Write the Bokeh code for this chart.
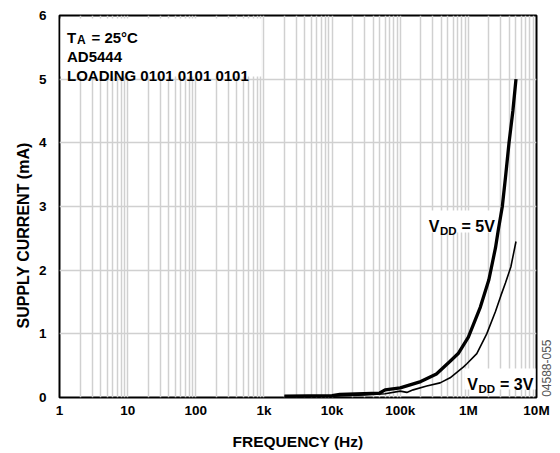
import math
from bokeh.plotting import figure
from bokeh.models import Range1d, FixedTicker, Label, BoxAnnotation, Title, LinearAxis
from bokeh.embed import file_html
from bokeh.resources import INLINE

# ---- data ----
freq_5v = [2e3, 1e4, 1.3e4, 5e4, 6e4, 1e5, 2e5, 3.4e5, 5.4e5, 7.1e5, 1e6, 1.5e6,
           2e6, 2.5e6, 2.75e6, 3.15e6, 3.5e6, 3.95e6, 4.5e6, 5e6]
current_5v = [0.02, 0.03, 0.05, 0.07, 0.12, 0.15, 0.25, 0.37, 0.57, 0.69, 0.95, 1.42,
              1.85, 2.35, 2.63, 3.0, 3.45, 4.0, 4.5, 5.0]
freq_3v = [2e3, 1e4, 3e4, 6e4, 1e5, 1.25e5, 1.55e5, 2.45e5, 3.85e5, 5.4e5, 8.5e5, 9.5e5,
           1.33e6, 1.86e6, 2.5e6, 3e6, 3.5e6, 4.2e6, 5e6]
current_3v = [0.02, 0.02, 0.04, 0.06, 0.10, 0.08, 0.12, 0.18, 0.23, 0.31, 0.48, 0.53,
              0.69, 1.0, 1.35, 1.6, 1.8, 2.05, 2.45]
x_ticks = [1, 10, 100, 1000, 10000, 100000, 1000000, 10000000]
x_tick_labels = ["1", "10", "100", "1k", "10k", "100k", "1M", "10M"]
y_ticks = [0, 1, 2, 3, 4, 5, 6]

FONT = "Liberation Sans"
GRID = "#d0d0d0"

FW, FH = 477, 382
BL, BT = 59, 15
p = figure(frame_width=FW, frame_height=FH, x_axis_type="log",
           x_range=Range1d(1, 1e7), y_range=Range1d(0, 6),
           output_backend="svg", toolbar_location=None,
           min_border_left=BL, min_border_right=22, min_border_top=BT,
           min_border_bottom=53)

# page-pixel helpers for annotation placement
X0 = BL
Y0 = BT + FH
DEC = FW / 7.0
UNIT = FH / 6.0
def sx(px):
    return 10 ** ((px - X0) / DEC)
def sy(py):
    return (Y0 - py) / UNIT

p.outline_line_color = "black"
p.outline_line_width = 2
p.background_fill_color = "white"
p.border_fill_color = "white"

minor = [m * 10 ** k for k in range(7) for m in range(2, 10)]
p.xaxis.ticker = FixedTicker(ticks=x_ticks, minor_ticks=minor)
p.xaxis.major_label_overrides = {t: l for t, l in zip(x_ticks, x_tick_labels)}
p.yaxis.ticker = FixedTicker(ticks=y_ticks)

def plain_axis(ax, size="13.5px", style="bold", color="black"):
    ax.axis_line_color = None
    ax.major_tick_line_color = None
    ax.minor_tick_line_color = None
    ax.major_tick_out = 0
    ax.major_tick_in = 0
    ax.minor_tick_out = 0
    ax.minor_tick_in = 0
    ax.major_label_text_font = FONT
    ax.major_label_text_font_style = style
    ax.major_label_text_font_size = size
    ax.major_label_text_color = color

plain_axis(p.xaxis[0])
plain_axis(p.yaxis[0])

p.xaxis.major_label_standoff = 5
p.yaxis.major_label_standoff = 13
p.xaxis.axis_label = "FREQUENCY (Hz)"
p.xaxis.axis_label_text_font = FONT
p.xaxis.axis_label_text_font_style = "bold"
p.xaxis.axis_label_text_font_size = "15.5px"
p.xaxis.axis_label_standoff = 12
p.xaxis.axis_label_text_color = "black"

# y axis title (placed low, as in the reference)
ytitle = Title(text="SUPPLY CURRENT (mA)", align="left", offset=69,
               text_font=FONT, text_font_style="bold", text_font_size="16px",
               text_color="black", standoff=8)
p.add_layout(ytitle, "left")

# figure id on the right
id_tick = 0.01
rax = LinearAxis(ticker=FixedTicker(ticks=[id_tick]),
                 major_label_overrides={id_tick: "04588-055"})
plain_axis(rax, size="12px", style="normal", color="#555555")
rax.major_label_orientation = math.pi / 2
rax.major_label_standoff = 10
p.add_layout(rax, "right")

p.xgrid.grid_line_color = GRID
p.xgrid.grid_line_width = 1.5
p.xgrid.minor_grid_line_color = GRID
p.xgrid.minor_grid_line_width = 1.5
p.ygrid.grid_line_color = GRID
p.ygrid.grid_line_width = 1.5

# white boxes behind the texts
def wbox(l, r, t, b):
    box = BoxAnnotation(left=sx(l), right=sx(r), top=sy(t), bottom=sy(b),
                        fill_color="white", fill_alpha=1.0, line_color=None,
                        level="glyph")
    p.add_layout(box)
wbox(X0 + 1, 261, 18, 76)
wbox(426, 496, 210, 232)
wbox(464, 535, 368, 389)

p.line(freq_3v, current_3v, line_color="black", line_width=1.6, level="annotation")
p.line(freq_5v, current_5v, line_color="black", line_width=3.3, level="annotation")

def lab(text, px, py, size, style="bold", **kw):
    kw.setdefault("text_baseline", "alphabetic")
    p.add_layout(Label(x=sx(px), y=sy(py), text=text, text_font=FONT,
                       text_font_size=size, text_font_style=style,
                       text_color=kw.pop("color", "black"), **kw))

# top-left annotation
lab("T", 66.5, 37.3, "15px")
lab("A", 76.5, 39.5, "12px")
lab("= 25°C", 91, 37.3, "15px")
lab("AD5444", 66.5, 55.7, "15px")
lab("LOADING 0101 0101 0101", 66.5, 75, "15px")

# curve labels
lab("V", 428.3, 226, "16px")
lab("DD", 439.5, 230, "11.5px")
lab("= 5V", 461, 226, "16px")
lab("V", 466.7, 384, "16px")
lab("DD", 478, 388, "11.5px")
lab("= 3V", 499.5, 384, "16px")

open("out.html", "w").write(file_html(p, INLINE))
